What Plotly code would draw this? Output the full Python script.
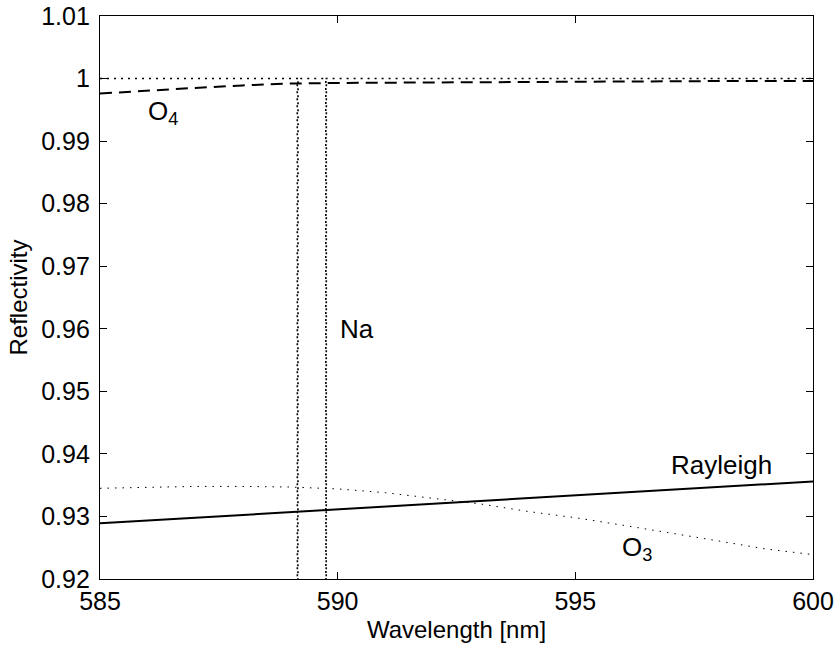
import plotly.graph_objects as go

# Wavelength grid [nm] and reflectivity of each absorber
wl = [585, 586, 587, 588, 589, 590, 591, 592, 593, 594, 595, 596, 597, 598, 599, 600]

o3_refl = [0.9345, 0.9347, 0.9348, 0.9348, 0.9347, 0.9344, 0.9338, 0.9329,
           0.9320, 0.9308, 0.9298, 0.9286, 0.9274, 0.9261, 0.9248, 0.9239]

o4_refl = [0.9976, 0.9981, 0.9985, 0.9989, 0.9992, 0.9993, 0.99935, 0.9994,
           0.99945, 0.9995, 0.9995, 0.99955, 0.99955, 0.9996, 0.9996, 0.9996]

rayleigh_wl = [585, 590, 595, 600]
rayleigh_refl = [0.9289, 0.9311, 0.9334, 0.9356]

# Sodium D lines (vacuum wavelengths): narrow, deep absorption
na_wl = [585, 589.150, 589.155, 589.161, 589.166, 589.750, 589.756, 589.762, 600]
na_refl = [1.0, 1.0, 0.80, 0.80, 1.0, 1.0, 0.80, 1.0, 1.0]

x_ticks = [585, 590, 595, 600]
y_ticks = [0.92, 0.93, 0.94, 0.95, 0.96, 0.97, 0.98, 0.99, 1.00, 1.01]
y_tick_text = ["0.92", "0.93", "0.94", "0.95", "0.96", "0.97", "0.98", "0.99", "1", "1.01"]

FONT = "Liberation Sans, Arial, Helvetica, sans-serif"

fig = go.Figure()

fig.add_trace(go.Scatter(x=na_wl, y=na_refl, mode="lines",
                         line=dict(color="black", width=1.6, dash="2px,5px"),
                         showlegend=False))
fig.add_trace(go.Scatter(x=wl, y=o3_refl, mode="lines",
                         line=dict(color="black", width=1, dash="1.5px,6px"),
                         showlegend=False))
fig.add_trace(go.Scatter(x=wl, y=o4_refl, mode="lines",
                         line=dict(color="black", width=2, dash="12px,7px"),
                         showlegend=False))
fig.add_trace(go.Scatter(x=rayleigh_wl, y=rayleigh_refl, mode="lines",
                         line=dict(color="black", width=2),
                         showlegend=False))

labels = [
    ("O<sub>4</sub>", 585.97, 0.9946),
    ("Na", 590.0, 0.9600),
    ("Rayleigh", 596.97, 0.9382),
    ("O<sub>3</sub>", 595.94, 0.9249),
]
for text, x, y in labels:
    fig.add_annotation(x=x, y=y, text=text, showarrow=False,
                       xanchor="left", yanchor="middle",
                       font=dict(family=FONT, size=26, color="black"))

axis_common = dict(
    showline=True, linecolor="black", linewidth=1.2, mirror="ticks",
    ticks="inside", ticklen=7, tickcolor="black", tickwidth=1,
    showgrid=False, zeroline=False, automargin=False,
    tickfont=dict(family=FONT, size=25, color="black"),
)

fig.update_xaxes(range=[585, 600], tickvals=x_ticks,
                 title=dict(text="Wavelength [nm]", standoff=7,
                            font=dict(family=FONT, size=24, color="black")),
                 **axis_common)
fig.update_yaxes(range=[0.92, 1.01], tickvals=y_ticks, ticktext=y_tick_text,
                 ticklabelstandoff=4,
                 title=dict(text="Reflectivity", standoff=6,
                            font=dict(family=FONT, size=24, color="black")),
                 **axis_common)

fig.update_layout(
    width=839, height=648,
    margin=dict(l=100, r=26, t=16, b=69),
    paper_bgcolor="white", plot_bgcolor="white",
    font=dict(family=FONT, size=24, color="black"),
)

fig.write_html("out.html")
